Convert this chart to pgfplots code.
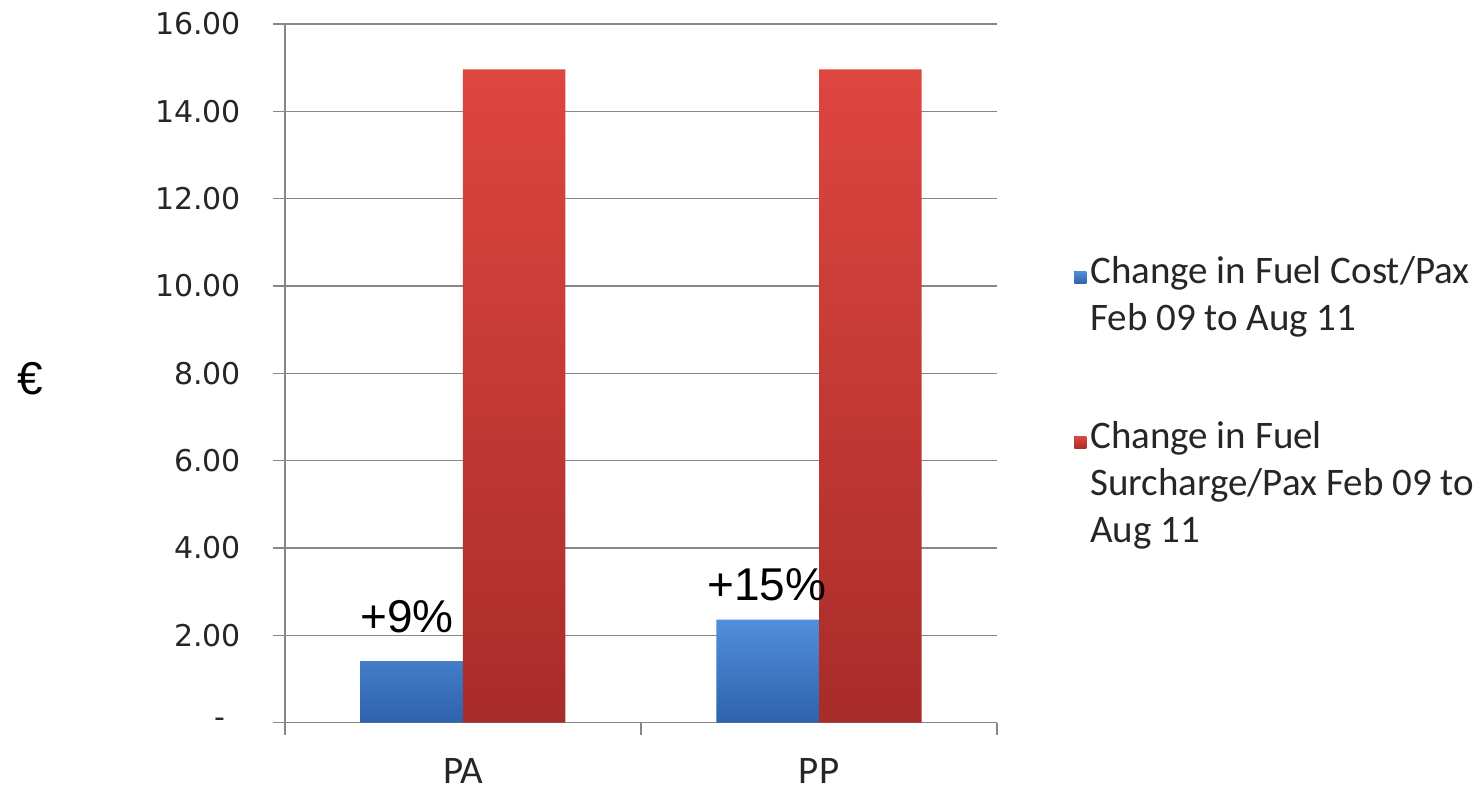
\documentclass[border=0pt]{standalone}
\usepackage{pgfplots}
\pgfplotsset{compat=1.18}
\usepackage{fontspec}
\setmainfont{Carlito}
\newfontfamily\dejavu{DejaVu Sans}
\newfontfamily\arialf{Liberation Sans}
\definecolor{gridc}{RGB}{134,134,134}
\definecolor{blueT}{RGB}{82,142,218}
\definecolor{blueB}{RGB}{46,98,172}
\definecolor{redT}{RGB}{222,70,64}
\definecolor{redB}{RGB}{168,44,42}
\begin{document}
\begin{tikzpicture}
\useasboundingbox (-142.5pt,-33.15pt) rectangle (599pt,361.35pt);
\begin{axis}[
  at={(0,0)}, anchor=south west,
  scale only axis, width=356pt, height=349.35pt,
  xmin=-0.5, xmax=1.5, ymin=0, ymax=16,
  axis x line*=bottom, axis y line*=left,
  axis line style={gridc, line width=0.75pt},
  ymajorgrids, grid style={gridc, line width=0.75pt},
  ytick={0,2,4,6,8,10,12,14,16},
  yticklabels={-\hspace*{8pt},2.00,4.00,6.00,8.00,10.00,12.00,14.00,16.00},
  xtick={-0.5,0.5,1.5}, xticklabels={},
  extra x ticks={0,1}, extra x tick labels={PA,PP},
  extra x tick style={tick style={draw=none}, grid=none},
  tick align=outside, major tick length=6pt,
  tick style={gridc, line width=0.75pt},
  yticklabel style={font=\dejavu\fontsize{15}{18}\selectfont, text=black!85, xshift=-12.5pt},
  xticklabel style={font=\fontsize{19.5}{23}\selectfont, text=black!85, inner sep=0pt, text depth=0pt, yshift=-11.5pt},
  ybar=0pt, bar width=51.25pt,
  clip=false,
  legend style={at={(1.108,0.682)}, anchor=north west, draw=none, fill=none,
    font=\fontsize{19.5}{23.5}\selectfont, text=black!85,
    cells={anchor=base west}, row sep=60.5pt, inner sep=0pt},
  legend image code/.code={\fill[#1] (0pt,0pt) rectangle (6pt,6pt);},
]
\addplot[draw=none, top color=blueT, bottom color=blueB] coordinates {(0,1.41) (1,2.36)};
\addplot[draw=none, top color=redT, bottom color=redB] coordinates {(0,14.96) (1,14.96)};
\legend{{\begin{tabular}[t]{@{}l@{}}Change in Fuel Cost/Pax\\Feb 09 to Aug 11\end{tabular}},{\begin{tabular}[t]{@{}l@{}}Change in Fuel\\Surcharge/Pax Feb 09 to\\Aug 11\end{tabular}}}
\node[font=\arialf\fontsize{23}{27}\selectfont] at (axis cs:-0.157,2.43) {+9\%};
\node[font=\arialf\fontsize{23}{27}\selectfont] at (axis cs:0.854,3.15) {+15\%};
\node[font=\arialf\fontsize{23}{27}\selectfont] at (rel axis cs:-0.358,0.493) {€};
\end{axis}
\end{tikzpicture}
\end{document}
